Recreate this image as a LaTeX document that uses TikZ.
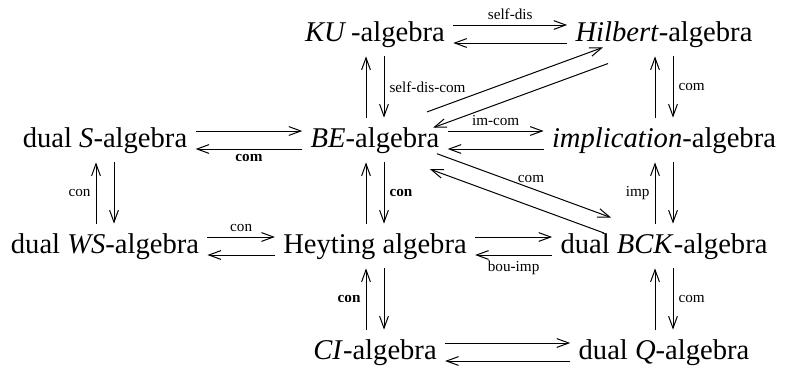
\documentclass[tikz,border=0pt]{standalone}
\usepackage{fontspec}
\setmainfont{Liberation Serif}
\usetikzlibrary{arrows.meta}

\begin{document}
\begin{tikzpicture}[
  x=0.5pt, y=-0.5pt,
  alg/.style={inner xsep=4pt, inner ysep=4.5pt, text height=10pt, text depth=3pt, font=\fontsize{14.3}{17}\selectfont},
  arr/.style={-{Straight Barb[length=6pt,width=4.4pt]}, line width=0.5pt},
  lbl/.style={font=\fontsize{7.6}{9}\selectfont, inner sep=2.5pt}
]
  \useasboundingbox (0,0) rectangle (785,370);
  \node[alg] (ku) at (375,34) {\textit{KU}\,-algebra};
  \node[alg] (hilbert) at (664,34) {\textit{Hilbert}-algebra};
  \node[alg] (duals) at (105,140) {dual \textit{S}-algebra};
  \node[alg] (be) at (375,140) {\textit{BE}-algebra};
  \node[alg] (impl) at (664,140) {\textit{implication}-algebra};
  \node[alg] (dualws) at (105,246) {dual \textit{WS}-algebra};
  \node[alg] (heyting) at (375,246) {Heyting algebra};
  \node[alg] (dualbck) at (664,246) {dual \textit{BCK}-algebra};
  \node[alg] (ci) at (375,352) {\textit{CI}-algebra};
  \node[alg] (dualq) at (664,352) {dual \textit{Q}-algebra};

  \draw[arr] ([yshift=4.5pt]ku.east) -- node[lbl, above] {self-dis} ([yshift=4.5pt]hilbert.west);
  \draw[arr] ([yshift=-4.5pt]hilbert.west) -- ([yshift=-4.5pt]ku.east);
  \draw[arr] ([yshift=4.5pt]duals.east) -- ([yshift=4.5pt]be.west);
  \draw[arr] ([yshift=-4.5pt]be.west) -- node[lbl, below] {\textbf{com}} ([yshift=-4.5pt]duals.east);
  \draw[arr] ([yshift=4.5pt]be.east) -- node[lbl, above] {im-com} ([yshift=4.5pt]impl.west);
  \draw[arr] ([yshift=-4.5pt]impl.west) -- ([yshift=-4.5pt]be.east);
  \draw[arr] ([yshift=4.5pt]dualws.east) -- node[lbl, above] {con} ([yshift=4.5pt]heyting.west);
  \draw[arr] ([yshift=-4.5pt]heyting.west) -- ([yshift=-4.5pt]dualws.east);
  \draw[arr] ([yshift=4.5pt]heyting.east) -- ([yshift=4.5pt]dualbck.west);
  \draw[arr] ([yshift=-4.5pt]dualbck.west) -- node[lbl, below] {bou-imp} ([yshift=-4.5pt]heyting.east);
  \draw[arr] ([yshift=4.5pt]ci.east) -- ([yshift=4.5pt]dualq.west);
  \draw[arr] ([yshift=-4.5pt]dualq.west) -- ([yshift=-4.5pt]ci.east);

  \draw[arr] ([xshift=-4.5pt]be.north) -- ([xshift=-4.5pt]ku.south);
  \draw[arr] ([xshift=4.5pt]ku.south) -- node[lbl, right] {self-dis-com} ([xshift=4.5pt]be.north);
  \draw[arr] ([xshift=-4.5pt]heyting.north) -- ([xshift=-4.5pt]be.south);
  \draw[arr] ([xshift=4.5pt]be.south) -- node[lbl, right] {\textbf{con}} ([xshift=4.5pt]heyting.north);
  \draw[arr] ([xshift=-4.5pt]ci.north) -- node[lbl, left] {\textbf{con}} ([xshift=-4.5pt]heyting.south);
  \draw[arr] ([xshift=4.5pt]heyting.south) -- ([xshift=4.5pt]ci.north);
  \draw[arr] ([xshift=-4.5pt]dualws.north) -- node[lbl, left] {con} ([xshift=-4.5pt]duals.south);
  \draw[arr] ([xshift=4.5pt]duals.south) -- ([xshift=4.5pt]dualws.north);
  \draw[arr] ([xshift=-4.5pt]impl.north) -- ([xshift=-4.5pt]hilbert.south);
  \draw[arr] ([xshift=4.5pt]hilbert.south) -- node[lbl, right] {com} ([xshift=4.5pt]impl.north);
  \draw[arr] ([xshift=-4.5pt]dualbck.north) -- node[lbl, left] {imp} ([xshift=-4.5pt]impl.south);
  \draw[arr] ([xshift=4.5pt]impl.south) -- ([xshift=4.5pt]dualbck.north);
  \draw[arr] ([xshift=-4.5pt]dualq.north) -- ([xshift=-4.5pt]dualbck.south);
  \draw[arr] ([xshift=4.5pt]dualbck.south) -- node[lbl, right] {com} ([xshift=4.5pt]dualq.north);

  \draw[arr, shorten <=27.7pt, shorten >=32.5pt] ([yshift=4.5pt]be.center) -- ([yshift=4.5pt]hilbert.center);
  \draw[arr, shorten <=29.8pt, shorten >=30.9pt] ([yshift=-4.5pt]hilbert.center) -- ([yshift=-4.5pt]be.center);
  \draw[arr, shorten <=33pt, shorten >=28.2pt] ([yshift=4.5pt]be.center) -- node[lbl, above, pos=0.54] {com} ([yshift=4.5pt]dualbck.center);
  \draw[arr, shorten <=32pt, shorten >=29.3pt] ([yshift=-4.5pt]dualbck.center) -- ([yshift=-4.5pt]be.center);
\end{tikzpicture}
\end{document}
